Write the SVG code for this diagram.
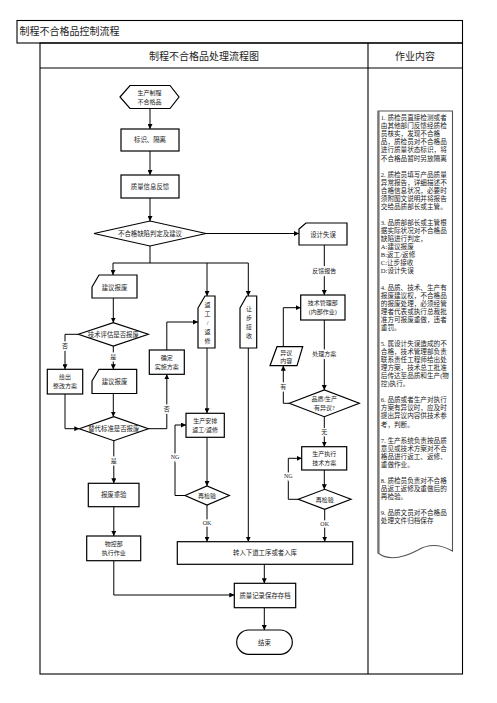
<svg xmlns="http://www.w3.org/2000/svg" width="497" height="703" viewBox="0 0 497 703">
<defs>
<marker id="arr" viewBox="0 0 10 10" refX="10" refY="5" markerWidth="5" markerHeight="5" markerUnits="userSpaceOnUse" orient="auto">
<path d="M0,0 L10,5 L0,10 z" fill="#000"/>
</marker>
<style>
text{font-family:"Liberation Serif","Noto Sans CJK SC",serif;fill:#222}
.frame{fill:none;stroke:#000;stroke-width:1.1}
.node{fill:#fff;stroke:#000;stroke-width:1.2}
.nt{font-size:6.4px;text-anchor:middle}
.sm{font-size:6px;text-anchor:middle}
.lbl{font-size:6px;text-anchor:middle;paint-order:stroke;stroke:#fff;stroke-width:3px}
.con{fill:none;stroke:#000;stroke-width:1}
.box{font-size:6.6px}
.hd{font-size:10px}
</style>
</defs>
<rect width="497" height="703" fill="#fff"/>
<g id="frame">
<rect class="frame" x="17" y="20.5" width="445.5" height="22.5"/>
<rect class="frame" x="40" y="43" width="422.5" height="631"/>
<line class="frame" x1="40" y1="68" x2="462.5" y2="68"/>
<line class="frame" x1="368" y1="43" x2="368" y2="674"/>
<text class="hd" x="19.5" y="35">制程不合格品控制流程</text>
<text class="hd" x="204" y="60" text-anchor="middle">制程不合格品处理流程图</text>
<text class="hd" x="415" y="60" text-anchor="middle">作业内容</text>
</g>
<g id="connectors">
<path class="con" d="M150,108.5 V129" marker-end="url(#arr)"/>
<path class="con" d="M150,151 V175" marker-end="url(#arr)"/>
<path class="con" d="M150,198 V221" stroke="#666" marker-end="url(#arr)"/>
<path class="con" d="M206,233.5 H299" marker-end="url(#arr)"/>
<path class="con" d="M150,246 V263 M113,263 H248.3"/>
<path class="con" d="M113,263 V275" marker-end="url(#arr)"/>
<path class="con" d="M207,263 V296" marker-end="url(#arr)"/>
<path class="con" d="M248.3,263 V296" marker-end="url(#arr)"/>
<path class="con" d="M113.3,298 V322.7" marker-end="url(#arr)"/>
<path class="con" d="M78.3,334.3 H65 V369.3" marker-end="url(#arr)"/>
<path class="con" d="M113.3,346 V369.3" marker-end="url(#arr)"/>
<path class="con" d="M65,394 V428.7 H79.3" marker-end="url(#arr)"/>
<path class="con" d="M113.3,393.5 V416.7" marker-end="url(#arr)"/>
<path class="con" d="M148.3,428.7 H166.8 V374.3" marker-end="url(#arr)"/>
<path class="con" d="M166.8,350 V322 H198" marker-end="url(#arr)"/>
<path class="con" d="M113.8,440.7 V483.3" marker-end="url(#arr)"/>
<path class="con" d="M113.8,506.7 V536" marker-end="url(#arr)"/>
<path class="con" d="M113.8,560.7 V595 H234.3" marker-end="url(#arr)"/>
<path class="con" d="M207,348 V413.3" marker-end="url(#arr)"/>
<path class="con" d="M207,437.3 V486" marker-end="url(#arr)"/>
<path class="con" d="M185,495.5 H175 V425 H186" marker-end="url(#arr)"/>
<path class="con" d="M207,505 V541.7" marker-end="url(#arr)"/>
<path class="con" d="M248.3,348 V541.7" marker-end="url(#arr)"/>
<path class="con" d="M324.3,245 V295" marker-end="url(#arr)"/>
<path class="con" d="M324.3,320 V390" marker-end="url(#arr)"/>
<path class="con" d="M289.3,403.3 H283.3 V365.7" marker-end="url(#arr)"/>
<path class="con" d="M283.3,346.7 V307.7 H300.7" marker-end="url(#arr)"/>
<path class="con" d="M324.3,416.7 V446.7" marker-end="url(#arr)"/>
<path class="con" d="M324.3,470 V489.3" marker-end="url(#arr)"/>
<path class="con" d="M298.3,499.3 H288.3 V458.3 H301.7" marker-end="url(#arr)"/>
<path class="con" d="M324.7,509.3 V541.7" marker-end="url(#arr)"/>
<path class="con" d="M264.3,564.3 V583.3" marker-end="url(#arr)"/>
<path class="con" d="M264.3,607.7 V630" marker-end="url(#arr)"/>
<text class="lbl" x="65" y="347.8">否</text>
<text class="lbl" x="113.3" y="358.8">是</text>
<text class="lbl" x="166.8" y="411">否</text>
<text class="lbl" x="113.8" y="463">是</text>
<text class="lbl" x="175" y="459">NG</text>
<text class="lbl" x="207" y="524.7">OK</text>
<text class="lbl" x="324.3" y="273">反馈报告</text>
<text class="lbl" x="324.3" y="356">处理方案</text>
<text class="lbl" x="283.3" y="388.7">有</text>
<text class="lbl" x="324.3" y="433.7">无</text>
<text class="lbl" x="288.3" y="478">NG</text>
<text class="lbl" x="324.7" y="526.3">OK</text>
</g>
<g id="n-start">
<polygon class="node" points="120,97 130,85.5 170,85.5 179,97 170,108.5 130,108.5"/>
<text class="sm" x="149.5" y="95">生产制程</text>
<text class="sm" x="149.5" y="103.5">不合格品</text>
</g>
<g id="n-mark">
<rect class="node" x="121" y="129" width="58" height="22"/>
<text class="nt" x="150" y="142.3">标识、隔离</text>
</g>
<g id="n-feedback">
<rect class="node" x="121" y="175" width="58" height="23"/>
<text class="nt" x="150" y="188.8">质量信息反馈</text>
</g>
<g id="n-judge">
<polygon class="node" points="94,233.5 150,221 206,233.5 150,246"/>
<text class="nt" x="150" y="235.8">不合格缺陷判定及建议</text>
</g>
<g id="n-design">
<polygon class="node" points="299,229 306,223 347,223 347,245 299,245"/>
<text class="nt" x="323" y="236.5">设计失误</text>
</g>
<g id="n-scrap1">
<polygon class="node" points="92,287 99,275 137,275 137,298 92,298"/>
<text class="nt" x="114.5" y="290">建议报废</text>
</g>
<g id="n-rework">
<polygon class="node" points="198,308 205,296 215,296 215,348 198,348"/>
<text class="sm" x="207.5" y="306.5">返</text>
<text class="sm" x="207.5" y="315.5">工</text>
<text class="sm" x="207.5" y="324.5">/</text>
<text class="sm" x="207.5" y="334">返</text>
<text class="sm" x="207.5" y="343">修</text>
</g>
<g id="n-concession">
<polygon class="node" points="240,308 246.7,296 256.7,296 256.7,348 240,348"/>
<text class="sm" x="249" y="311">让</text>
<text class="sm" x="249" y="320">步</text>
<text class="sm" x="249" y="329">接</text>
<text class="sm" x="249" y="338">收</text>
</g>
<g id="n-eval">
<polygon class="node" points="78.3,334.3 113.3,322.7 148.3,334.3 113.3,346"/>
<text class="nt" x="113.3" y="336.6">技术评估是否报废</text>
</g>
<g id="n-plan">
<rect class="node" x="149.3" y="350" width="35" height="24.3"/>
<text class="sm" x="166.8" y="360">确定</text>
<text class="sm" x="166.8" y="369">实施方案</text>
</g>
<g id="n-fix">
<rect class="node" x="47.3" y="369.3" width="35.4" height="24.7"/>
<text class="sm" x="65" y="378.5">给出</text>
<text class="sm" x="65" y="388">整改方案</text>
</g>
<g id="n-scrap2">
<polygon class="node" points="92,381 99,369.3 136.7,369.3 136.7,393.5 92,393.5"/>
<text class="nt" x="114.5" y="384">建议报废</text>
</g>
<g id="n-alt">
<polygon class="node" points="79.3,428.7 113.8,416.7 148.3,428.7 113.8,440.7"/>
<text class="nt" x="113.8" y="431">替代标准是否报废</text>
</g>
<g id="n-scrapcheck">
<rect class="node" x="88.3" y="483.3" width="50.7" height="23.4"/>
<text class="nt" x="113.7" y="497.2">报废重验</text>
</g>
<g id="n-material">
<rect class="node" x="86.7" y="536" width="54" height="24.7"/>
<text class="sm" x="113.7" y="546">物控部</text>
<text class="sm" x="113.7" y="555">执行作业</text>
</g>
<g id="n-prodrework">
<rect class="node" x="186" y="413.3" width="38.3" height="24"/>
<text class="sm" x="205.2" y="423">生产安排</text>
<text class="sm" x="205.2" y="432">返工/返修</text>
</g>
<g id="n-recheck1">
<polygon class="node" points="185,495.5 207,486 229.3,495.5 207,505"/>
<text class="sm" x="207" y="497.7">再检验</text>
</g>
<g id="n-tech">
<rect class="node" x="300.7" y="295" width="44.3" height="25"/>
<text class="sm" x="322.8" y="305">技术管理部</text>
<text class="sm" x="322.8" y="314">(内部作业)</text>
</g>
<g id="n-objection">
<polygon class="node" points="270,365.7 277,346.7 302.7,346.7 297,365.7"/>
<text class="sm" x="286.3" y="354.5">异议</text>
<text class="sm" x="286.3" y="363">内容</text>
</g>
<g id="n-dispute">
<polygon class="node" points="289.3,403.3 324.3,390 359.3,403.3 324.3,416.7"/>
<text class="sm" x="324.3" y="401">品质/生产</text>
<text class="sm" x="324.3" y="409.5">有异议?</text>
</g>
<g id="n-exec">
<rect class="node" x="301.7" y="446.7" width="45" height="23.3"/>
<text class="sm" x="324.2" y="456.3">生产执行</text>
<text class="sm" x="324.2" y="465">技术方案</text>
</g>
<g id="n-recheck2">
<polygon class="node" points="298.3,499.3 324.7,489.3 351,499.3 324.7,509.3"/>
<text class="sm" x="324.7" y="501.5">再检验</text>
</g>
<g id="n-next">
<rect class="node" x="177.3" y="541.7" width="175.4" height="22.6"/>
<text class="nt" x="265" y="555.3">转入下道工序或者入库</text>
</g>
<g id="n-record">
<rect class="node" x="234.3" y="583.3" width="61.4" height="24.4"/>
<text class="nt" x="265" y="597.8">质量记录保存存档</text>
</g>
<g id="n-end">
<rect class="node" x="236.7" y="630" width="55.6" height="24.3" rx="12.1"/>
<text class="nt" x="264.5" y="644.5">结束</text>
</g>
<g id="n-notes">
<path d="M378,111 H452.5 V551 C440,544 428,544 418,550 C405,557 390,562 378,553 Z" fill="#fff" stroke="#555" stroke-width="1.1"/>
<line x1="378.6" y1="111" x2="378.6" y2="553" stroke="#777" stroke-width="2"/>
<text class="box">
<tspan x="380.8" y="120.2">1. 质检员直接检测或者</tspan>
<tspan x="380.8" y="128.3">由其他部门反馈经质检</tspan>
<tspan x="380.8" y="136.3">员核实，发现不合格</tspan>
<tspan x="380.8" y="144.4">品，质检员对不合格品</tspan>
<tspan x="380.8" y="152.4">进行质量状态标识，将</tspan>
<tspan x="380.8" y="160.5">不合格品暂时另放隔离</tspan>
<tspan x="380.8" y="176.6">2. 质检员填写产品质量</tspan>
<tspan x="380.8" y="184.7">异常报告，详细描述不</tspan>
<tspan x="380.8" y="192.7">合格信息状况，必要时</tspan>
<tspan x="380.8" y="200.8">须附图文说明并将报告</tspan>
<tspan x="380.8" y="208.9">交给品质部长或主管。</tspan>
<tspan x="380.8" y="225.0">3. 品质部部长或主管根</tspan>
<tspan x="380.8" y="233.0">据实际状况对不合格品</tspan>
<tspan x="380.8" y="241.1">缺陷进行判定，</tspan>
<tspan x="380.8" y="249.2">A:建议报废</tspan>
<tspan x="380.8" y="257.2">B:返工/返修</tspan>
<tspan x="380.8" y="265.3">C:让步接收</tspan>
<tspan x="380.8" y="273.3">D:设计失误</tspan>
<tspan x="380.8" y="289.5">4. 品质、技术、生产有</tspan>
<tspan x="380.8" y="297.5">报废建议权，不合格品</tspan>
<tspan x="380.8" y="305.6">的报废处理，必须经管</tspan>
<tspan x="380.8" y="313.6">理者代表或执行总裁批</tspan>
<tspan x="380.8" y="321.7">准方可报废重做，违者</tspan>
<tspan x="380.8" y="329.8">重罚。</tspan>
<tspan x="380.8" y="345.9">5. 属设计失误造成的不</tspan>
<tspan x="380.8" y="353.9">合格，技术管理部负责</tspan>
<tspan x="380.8" y="362.0">联系责任工程师给出处</tspan>
<tspan x="380.8" y="370.1">理方案，技术总工批准</tspan>
<tspan x="380.8" y="378.1">后传达至品质和生产(物</tspan>
<tspan x="380.8" y="386.2">控)执行。</tspan>
<tspan x="380.8" y="402.3">6. 品质或者生产对执行</tspan>
<tspan x="380.8" y="410.3">方案有异议时，应及时</tspan>
<tspan x="380.8" y="418.4">提出异议内容供技术参</tspan>
<tspan x="380.8" y="426.5">考，判断。</tspan>
<tspan x="380.8" y="442.6">7. 生产系统负责按品质</tspan>
<tspan x="380.8" y="450.7">意见或技术方案对不合</tspan>
<tspan x="380.8" y="458.7">格品进行返工、返修、</tspan>
<tspan x="380.8" y="466.8">重做作业。</tspan>
<tspan x="380.8" y="482.9">8. 质检员负责对不合格</tspan>
<tspan x="380.8" y="491.0">品返工返修及重做后的</tspan>
<tspan x="380.8" y="499.0">再检验。</tspan>
<tspan x="380.8" y="515.1">9. 品质文员对不合格品</tspan>
<tspan x="380.8" y="523.2">处理文件归档保存</tspan>
</text>
</g>
</svg>
